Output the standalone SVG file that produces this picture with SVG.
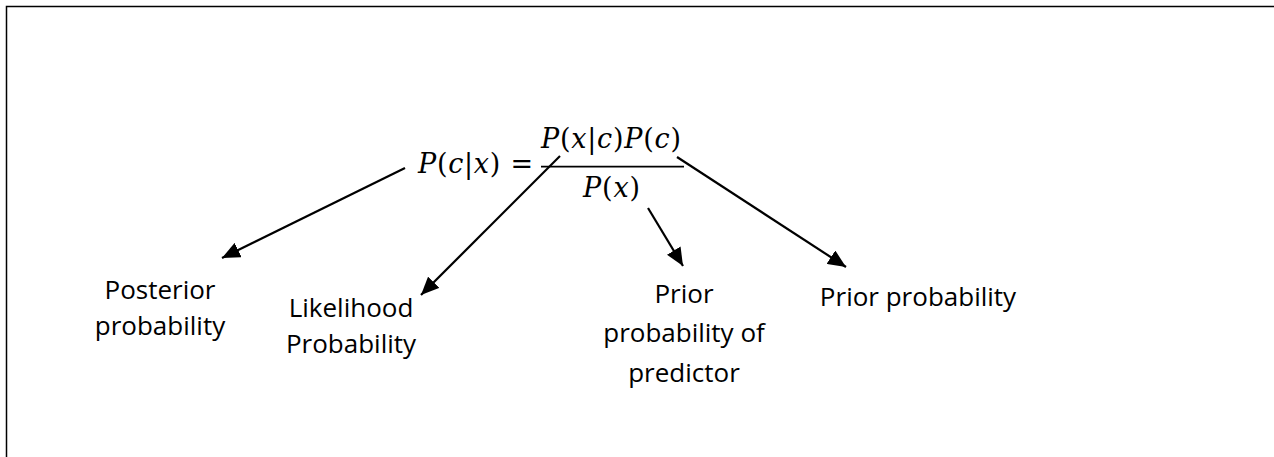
<svg xmlns="http://www.w3.org/2000/svg" width="1274" height="457" viewBox="0 0 1274 457">
<style>
.m{font-family:"DejaVu Serif","Liberation Serif",serif;font-size:27px;fill:#000}
.i{font-style:italic}
.lbl{font-family:"Open Sans","Liberation Sans",sans-serif;font-size:26px;fill:#000;text-anchor:middle}
.c{stroke:#000;stroke-width:2.2;fill:none;marker-end:url(#ah)}
</style>
<defs>
<marker id="ah" viewBox="0 0 18 16" refX="18" refY="8" markerWidth="18" markerHeight="16" markerUnits="userSpaceOnUse" orient="auto">
<path d="M0,0 L18,8 L0,16 z" fill="#000"/>
</marker>
</defs>
<rect x="0" y="0" width="1274" height="457" fill="#fff"/>
<rect x="6.5" y="6.5" width="1280" height="470" fill="none" stroke="#000" stroke-width="1.5"/>
<g id="formula">
<text class="m" x="418" y="173" textLength="115" lengthAdjust="spacing"><tspan class="i">P</tspan>(<tspan class="i">c</tspan>|<tspan class="i">x</tspan>) =</text>
<text class="m" x="541" y="148" textLength="140" lengthAdjust="spacing"><tspan class="i">P</tspan>(<tspan class="i">x</tspan>|<tspan class="i">c</tspan>)<tspan class="i">P</tspan>(<tspan class="i">c</tspan>)</text>
<line x1="541" y1="166.7" x2="684" y2="166.7" stroke="#000" stroke-width="1.8"/>
<text class="m" x="583" y="197" textLength="57" lengthAdjust="spacing"><tspan class="i">P</tspan>(<tspan class="i">x</tspan>)</text>
</g>
<g id="posterior">
<text class="lbl" x="160" y="299">Posterior</text>
<text class="lbl" x="160" y="335">probability</text>
</g>
<g id="likelihood">
<text class="lbl" x="351" y="317">Likelihood</text>
<text class="lbl" x="351" y="353">Probability</text>
</g>
<g id="prior-predictor">
<text class="lbl" x="684" y="303">Prior</text>
<text class="lbl" x="684" y="342">probability of</text>
<text class="lbl" x="684" y="382">predictor</text>
</g>
<g id="prior">
<text class="lbl" x="918" y="306">Prior probability</text>
</g>
<g id="connectors">
<line class="c" x1="405" y1="168" x2="222" y2="258"/>
<line class="c" x1="560" y1="156" x2="421" y2="295"/>
<line class="c" x1="648" y1="208" x2="683" y2="266"/>
<line class="c" x1="677" y1="157" x2="846" y2="267"/>
</g>
</svg>
